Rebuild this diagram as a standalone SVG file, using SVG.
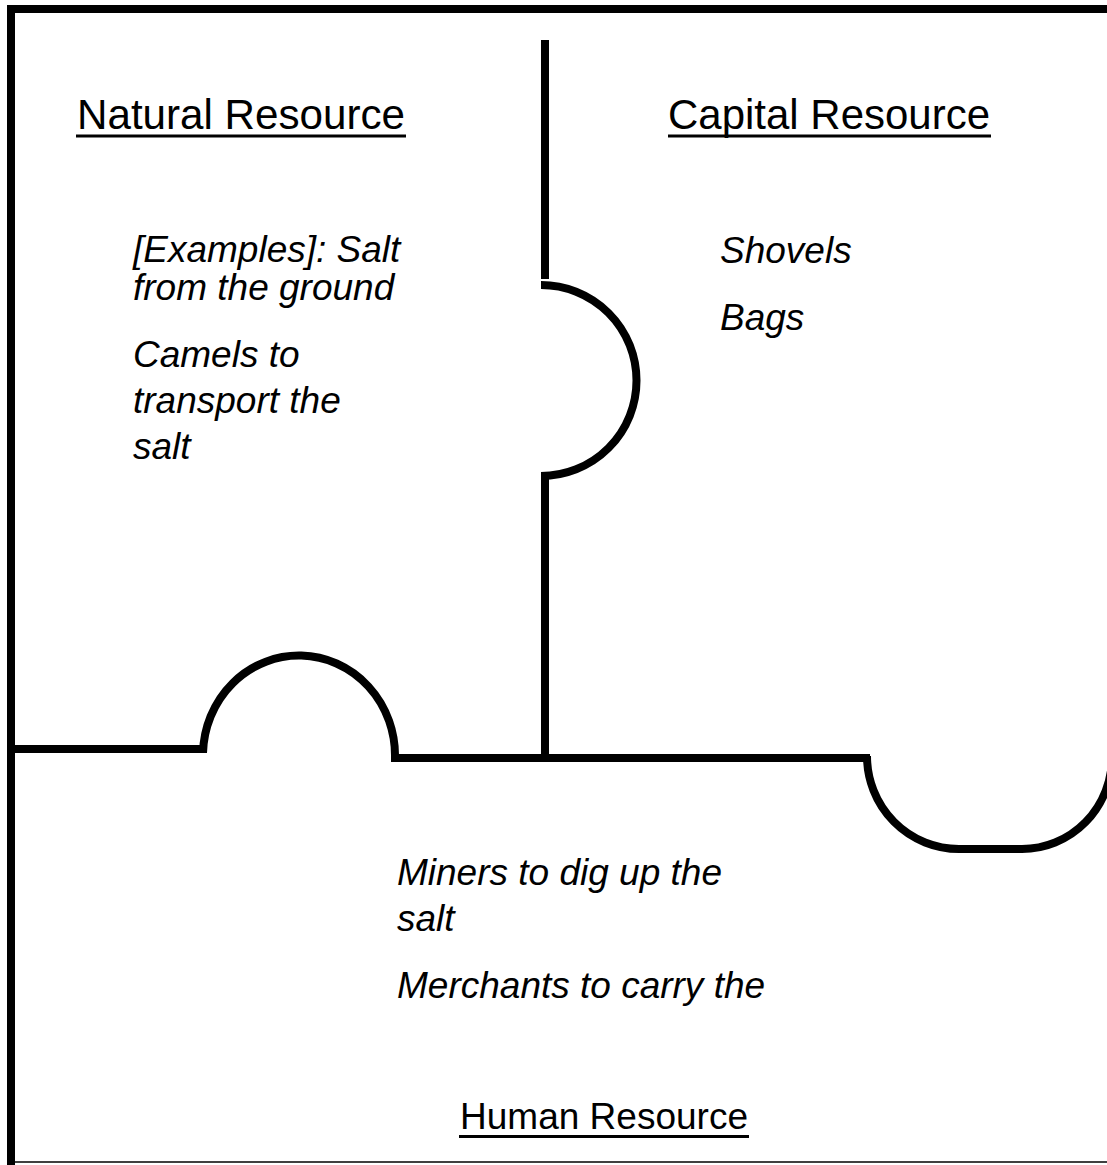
<svg xmlns="http://www.w3.org/2000/svg" width="1107" height="1165" viewBox="0 0 1107 1165">
  <style>
    .edge { fill: none; stroke: #000; stroke-width: 8; stroke-linecap: butt; stroke-linejoin: miter; }
    .thin { fill: none; stroke: #000; stroke-width: 1.5; }
    .ul { stroke: #000; stroke-width: 3; }
    .title { font-family: "Liberation Sans", Arial, sans-serif; font-size: 42px; fill: #000; }
    .item { font-family: "Liberation Sans", Arial, sans-serif; font-size: 37px; font-style: italic; fill: #000; }
  </style>
  <rect x="0" y="0" width="1107" height="1165" fill="#fff"/>
  <g id="connectors">
    <line class="edge" x1="7" y1="9" x2="1107" y2="9"/>
    <line class="edge" x1="11" y1="5" x2="11" y2="1165"/>
    <line class="thin" x1="15" y1="1162" x2="1107" y2="1162"/>
    <line class="edge" x1="545" y1="40" x2="545" y2="279"/>
    <path class="edge" d="M541 285 A95 95 0 0 1 541 476"/>
    <line class="edge" x1="545" y1="477" x2="545" y2="762"/>
    <line class="edge" x1="15" y1="749" x2="207" y2="749"/>
    <path class="edge" d="M203 753 A96 100 0 0 1 395 758"/>
    <line class="edge" x1="391" y1="758" x2="870" y2="758"/>
    <path class="edge" d="M867 756 A92 93 0 0 0 959 849 L1022 849 A90 92 0 0 0 1112 757"/>
  </g>
  <g id="natural">
    <text class="title" x="77" y="129" textLength="328" lengthAdjust="spacingAndGlyphs">Natural Resource</text>
    <line class="ul" x1="76" y1="136" x2="406" y2="136"/>
    <text class="item" x="133" y="262">[Examples]: Salt</text>
    <text class="item" x="133" y="300">from the ground</text>
    <text class="item" x="133" y="367">Camels to</text>
    <text class="item" x="133" y="413">transport the</text>
    <text class="item" x="133" y="459">salt</text>
  </g>
  <g id="capital">
    <text class="title" x="668" y="129" textLength="322" lengthAdjust="spacingAndGlyphs">Capital Resource</text>
    <line class="ul" x1="668" y1="136" x2="991" y2="136"/>
    <text class="item" x="720" y="263">Shovels</text>
    <text class="item" x="720" y="330">Bags</text>
  </g>
  <g id="human">
    <text class="item" x="397" y="885">Miners to dig up the</text>
    <text class="item" x="397" y="931">salt</text>
    <text class="item" x="397" y="998">Merchants to carry the</text>
    <text class="title" x="460" y="1129" textLength="288" lengthAdjust="spacingAndGlyphs" style="font-size:37px">Human Resource</text>
    <line class="ul" x1="459" y1="1136.5" x2="749" y2="1136.5"/>
  </g>
</svg>
